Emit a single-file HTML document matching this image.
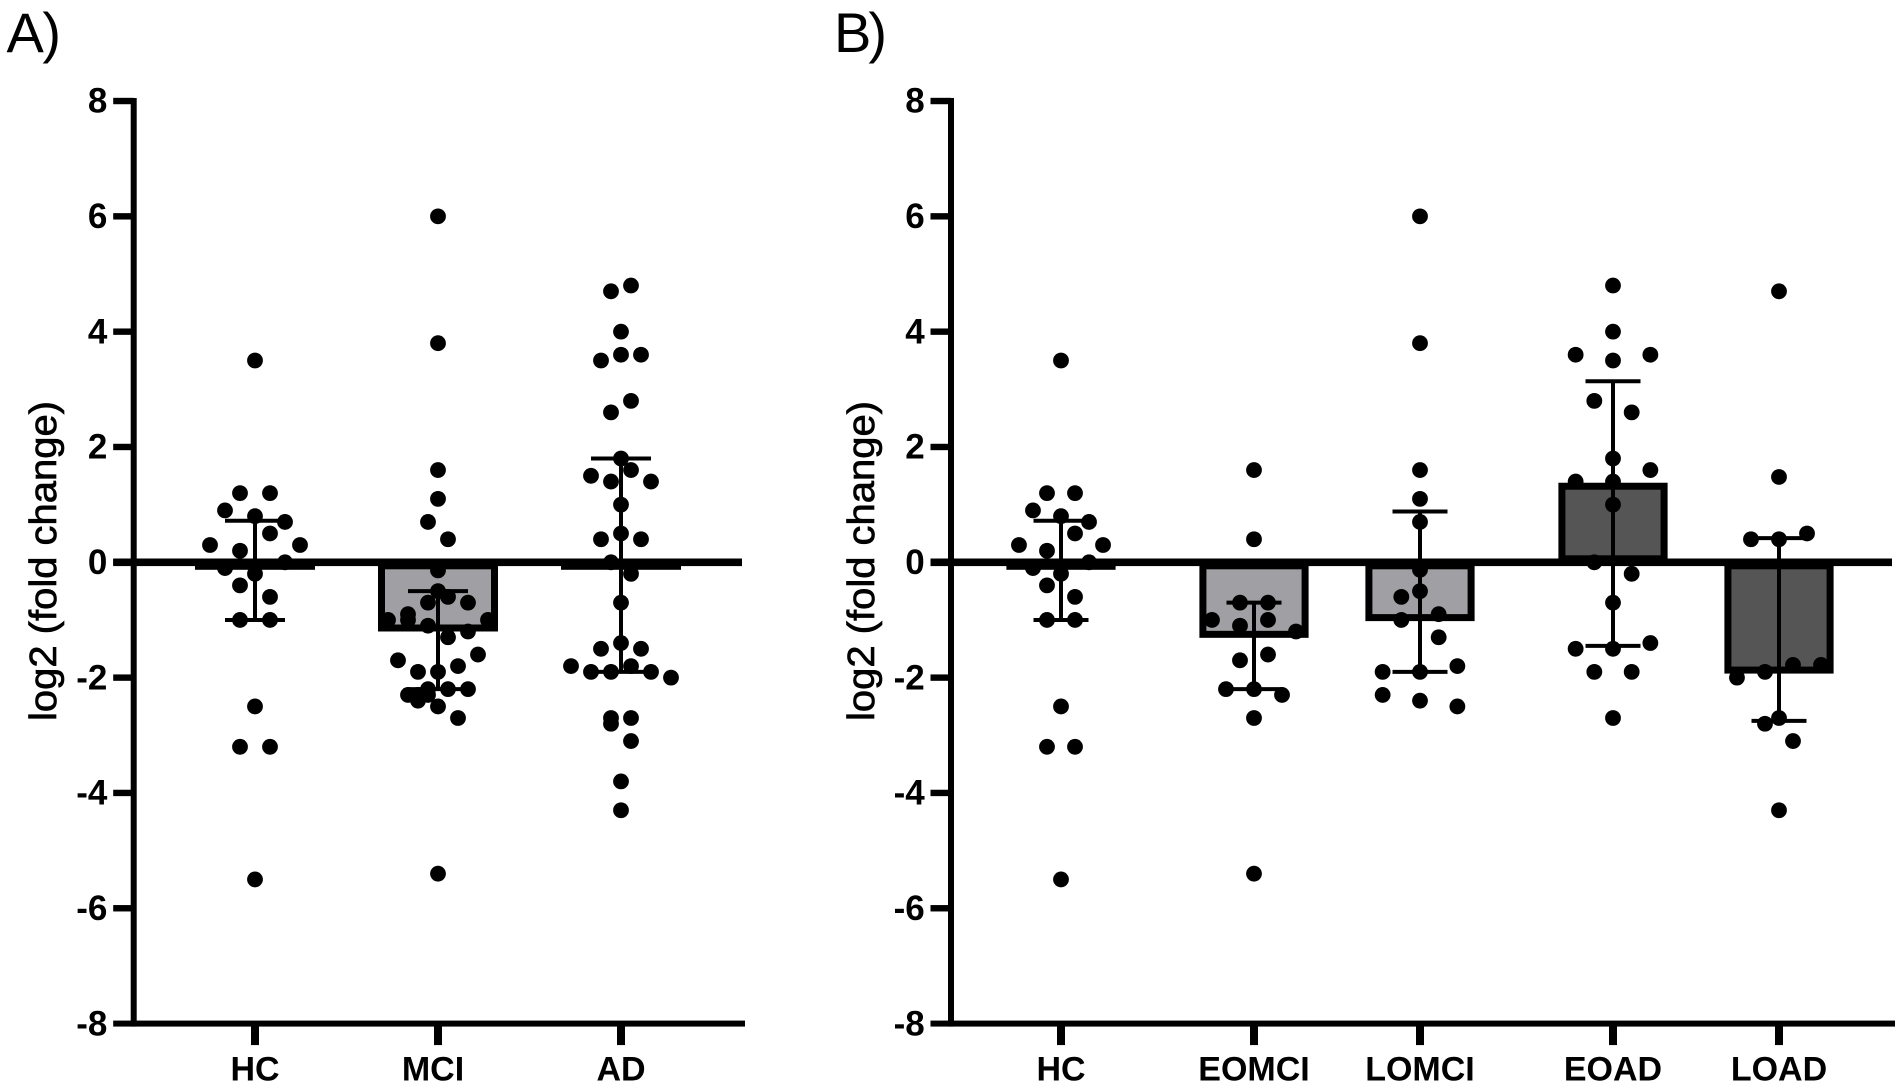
<!DOCTYPE html>
<html lang="en">
<head>
<meta charset="utf-8">
<title>log2 fold change by group</title>
<style>
html,body{margin:0;padding:0;background:#fff;width:1901px;height:1087px;overflow:hidden}
svg{display:block}
text{font-family:"Liberation Sans",Arial,sans-serif;fill:#000}
</style>
</head>
<body>
<svg id="figure" xmlns="http://www.w3.org/2000/svg" width="1901" height="1087" viewBox="0 0 1901 1087"></svg>
<script>
// Shared axis data
const yTickValues = [8, 6, 4, 2, 0, -2, -4, -6, -8];

// Panel A data
const panelACategories = ['HC', 'MCI', 'AD'];
const panelAGroups = [0, 0, 0];
const panelAMeans = [-0.13, -1.2, -0.13];
const panelAErrorUpper = [0.72, -0.5, 1.8];
const panelAErrorLower = [-1.0, -2.2, -1.9];

// Panel B data
const panelBCategories = ['HC', 'EOMCI', 'LOMCI', 'EOAD', 'LOAD'];
const panelBGroups = [0, 1, 1, 2, 2];
const panelBMeans = [-0.13, -1.31, -1.02, 1.38, -1.93];
const panelBErrorUpper = [0.72, -0.7, 0.88, 3.14, 0.42];
const panelBErrorLower = [-1.0, -2.2, -1.9, -1.45, -2.75];

// Individual samples: value plus integer swarm slot
const hcValues = [3.5, 1.2, 1.2, 0.9, 0.8, 0.7, 0.5, 0.3, 0.3, 0.2, 0, -0.1, -0.2, -0.4, -0.6, -1, -1, -2.5, -3.2, -3.2, -5.5];
const hcSlots = [0, -3, 3, -6, 0, 6, 3, -9, 9, -3, 6, -6, 0, -3, 3, -3, 3, 0, -3, 3, 0];

const mciValues = [6, 3.8, 1.6, 1.1, 0.7, 0.4, -0.14, -0.5, -0.6, -0.7, -0.7, -0.9, -1, -1, -1, -1.1, -1.2, -1.3, -1.6, -1.7, -1.8, -1.9, -1.9, -2.2, -2.2, -2.2, -2.3, -2.3, -2.3, -2.4, -2.5, -2.7, -5.4];
const mciSlots = [0, 0, 0, 0, -2, 2, 0, 0, 2, -2, 6, -6, -6, -10, 10, -2, 6, 2, 8, -8, 4, -4, 0, 2, 6, -2, -6, -4, -2, -4, 0, 4, 0];

const adValues = [4.8, 4.7, 4, 3.6, 3.6, 3.5, 2.8, 2.6, 1.8, 1.6, 1.5, 1.4, 1.4, 1, 0.5, 0.4, 0.4, 0, -0.2, -0.7, -1.4, -1.5, -1.5, -1.8, -1.8, -1.9, -1.9, -1.9, -2, -2.7, -2.7, -2.8, -3.1, -3.8, -4.3];
const adSlots = [2, -2, 0, 0, 4, -4, 2, -2, 0, 2, -6, -2, 6, 0, 0, -4, 4, -2, 2, 0, 0, -4, 4, 2, -10, -6, -2, 6, 10, 2, -2, -2, 2, 0, 0];

const eomciValues = [1.6, 0.4, -0.7, -0.7, -1, -1, -1.1, -1.2, -1.6, -1.7, -2.2, -2.2, -2.3, -2.7, -5.4];
const eomciSlots = [0, 0, -3, 3, -9, 3, -3, 9, 3, -3, -6, 0, 6, 0, 0];

const lomciValues = [6, 3.8, 1.6, 1.1, 0.7, -0.13, -0.5, -0.6, -1, -0.9, -1.3, -1.8, -1.9, -1.9, -2.3, -2.4, -2.5];
const lomciSlots = [0, 0, 0, 0, 0, 0, 0, -4, -4, 4, 4, 8, -8, 0, -8, 0, 8];

const eoadValues = [4.8, 4, 3.6, 3.6, 3.5, 2.8, 2.6, 1.8, 1.6, 1.4, 1.4, 1, 0, -0.2, -0.7, -1.4, -1.5, -1.5, -1.9, -1.9, -2.7];
const eoadSlots = [0, 0, -8, 8, 0, -4, 4, 0, 8, -8, 0, 0, -4, 4, 0, 8, -8, 0, -4, 4, 0];

const loadValues = [4.7, 1.48, 0.5, 0.4, 0.4, -1.78, -1.78, -1.9, -2, -2.7, -2.8, -3.1, -4.3];
const loadSlots = [0, 0, 6, -6, 0, 3, 9, -3, -9, 0, -3, 3, 0];

const panelASamples = [hcValues, mciValues, adValues];
const panelASlots = [hcSlots, mciSlots, adSlots];
const panelBSamples = [hcValues, eomciValues, lomciValues, eoadValues, loadValues];
const panelBSlots = [hcSlots, eomciSlots, lomciSlots, eoadSlots, loadSlots];

const svg = document.getElementById('figure');
const NS = 'http://www.w3.org/2000/svg';

function yScale(v) { return 562.3 - v * 57.66; }

function make(tag, parent, attrs, content) {
  const el = document.createElementNS(NS, tag);
  for (const k in attrs) el.setAttribute(k, attrs[k]);
  if (content !== undefined) el.textContent = content;
  parent.appendChild(el);
  return el;
}

function barFill(label) {
  if (label.endsWith('MCI')) return '#a0a0a4';
  if (label.endsWith('AD')) return '#555555';
  return '#ffffff';
}

function labelNudge(label) { return label === 'MCI' ? -5 : 0; }

function slug(label) { return label.toLowerCase(); }

function drawPanel(p) {
  const g = make('g', svg, {});
  
  

  const xScale = i => p.originX + i * p.step + p.groups[i] * p.groupGap;

  const letter = make('text', g, { x: p.letterX, y: 52, 'font-size': 56, 'letter-spacing': p.letterSpacing }, p.letter);
  
  

  const title = make('text', g, {
    transform: 'translate(' + p.titleX + ',721) rotate(-90)',
    'font-size': 38, textLength: 320, lengthAdjust: 'spacingAndGlyphs',
    stroke: '#000', 'stroke-width': 0.7
  }, 'log2 (fold change)');
  
  

  // bars
  p.means.forEach((m, i) => {
    const cx = xScale(i), y0 = yScale(0), y1 = yScale(m);
    const top = Math.min(y0, y1), h = Math.abs(y1 - y0);
    const outer = make('rect', g, { x: cx - p.barHalf, y: top, width: p.barHalf * 2, height: h, fill: '#000' });
    
    
    if (h > 10) {
      const inner = make('rect', g, { x: cx - p.barHalf + 7, y: top + 7, width: p.barHalf * 2 - 14, height: Math.max(0, h - 14), fill: barFill(p.categories[i]) });
      
      
    }
  });

  // y axis
  const yAxis = make('rect', g, { x: p.axisX - 3, y: yScale(8) - 3, width: 6, height: yScale(-8) - yScale(8) + 6, fill: '#000' });
  
  

  yTickValues.forEach(v => {
    const y = yScale(v);
    if (v !== -8) {
      const tick = make('rect', g, { x: p.axisX - 20.5, y: y - 3.2, width: 20.5, height: 6.4, fill: '#000' });
      
      
    }
    const lab = make('text', g, { x: p.axisX - 26.3, y: y + 11.7, 'font-size': 35, 'font-weight': 'bold', 'text-anchor': 'end' }, String(v));
    
    
  });

  // x axis at the bottom
  const xAxis = make('rect', g, { x: p.axisX - 20.5, y: yScale(-8) - 3, width: p.bottomEnd - p.axisX + 20.5, height: 6, fill: '#000' });
  
  

  // zero line
  const zero = make('rect', g, { x: p.axisX - 20.5, y: yScale(0) - 3.8, width: p.zeroEnd - p.axisX + 20.5, height: 7.6, fill: '#000' });
  
  

  p.categories.forEach((c, i) => {
    const cx = xScale(i);
    const tick = make('rect', g, { x: cx - 4, y: yScale(-8), width: 8, height: 21.5, fill: '#000' });
    
    
    const lab = make('text', g, { x: cx + labelNudge(c), y: 1080.5, 'font-size': 34, 'font-weight': 'bold', 'text-anchor': 'middle' }, c);
    
    
  });

  // error bars
  p.errUpper.forEach((u, i) => {
    const cx = xScale(i), l = p.errLower[i];
    const stem = make('line', g, { x1: cx, x2: cx, y1: yScale(u), y2: yScale(l), stroke: '#000', 'stroke-width': 4 });
    
    
    const capTop = make('line', g, { x1: cx - p.capHalf, x2: cx + p.capHalf, y1: yScale(u), y2: yScale(u), stroke: '#000', 'stroke-width': 4 });
    
    
    const capBot = make('line', g, { x1: cx - p.capHalf, x2: cx + p.capHalf, y1: yScale(l), y2: yScale(l), stroke: '#000', 'stroke-width': 4 });
    
    
  });

  // points
  p.samples.forEach((vals, i) => {
    const cx = xScale(i);
    vals.forEach((v, k) => {
      const dot = make('circle', g, { cx: cx + p.slots[i][k] * p.slotUnit, cy: yScale(v), r: 7.9, fill: '#000' });
      
      
    });
  });
}

drawPanel({
  id: 'a', letter: 'A)', letterX: 6.5, letterSpacing: -1.5, titleX: 56, axisX: 133.7, originX: 255, step: 183, groupGap: 0,
  groups: panelAGroups, categories: panelACategories, means: panelAMeans,
  errUpper: panelAErrorUpper, errLower: panelAErrorLower, samples: panelASamples, slots: panelASlots,
  barHalf: 60, capHalf: 30, slotUnit: 5, zeroEnd: 742, bottomEnd: 745
});
drawPanel({
  id: 'b', letter: 'B)', letterX: 834, letterSpacing: -3, titleX: 874, axisX: 951, originX: 1061, step: 166, groupGap: 27,
  groups: panelBGroups, categories: panelBCategories, means: panelBMeans,
  errUpper: panelBErrorUpper, errLower: panelBErrorLower, samples: panelBSamples, slots: panelBSlots,
  barHalf: 54.6, capHalf: 27.5, slotUnit: 4.67, zeroEnd: 1892, bottomEnd: 1895
});
</script>
</body>
</html>
